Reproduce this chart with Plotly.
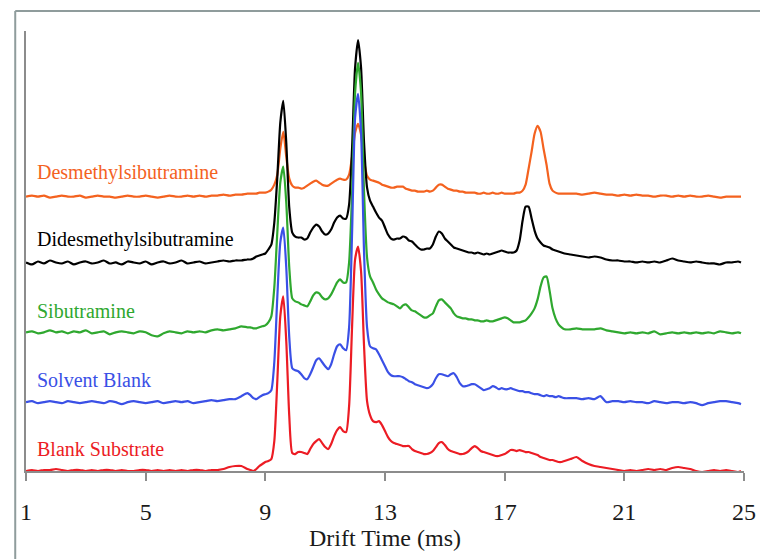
import numpy as np
import plotly.graph_objects as go

# Drift-time sampling grid (ms): coarse at the flat ends, finer through the peak region
t_lo = np.round(np.arange(1.0, 8.41, 0.2), 1)
t_mid = np.round(np.arange(8.5, 19.01, 0.1), 1)
t_hi = np.round(np.append(np.arange(19.2, 24.81, 0.2), 24.9), 1)
drift_time = np.concatenate([t_lo, t_mid, t_hi])

names = ["Desmethylsibutramine", "Didesmethylsibutramine", "Sibutramine",
         "Solvent Blank", "Blank Substrate"]
colors = ["#F4621F", "#000000", "#2FA82F", "#3A50E6", "#EC1C24"]
offsets = [275, 209, 139, 69, 0]   # vertical stacking offset of each spectrum

desmethyl = (
    [0,1,0,1,-1, 0,1,0,0,1, -1,0,1,0,0, -1,0,1,0,0, 1,0,-1,0,1, 0,0,1,0,1, 0,1,1,2,1, 2,2,3]
    + [3,3,3,4,4, 4,5,7,12,22, 48,65,40,18,11, 9,9,8,9,11, 13,15,16,14,12,
       11,11,13,15,17, 18,17,17,22,40, 64,73,62,36,21, 17,16,15,14,12,
       11,10,9,9,10, 10,10,8,7,6, 6,5,5,5,6, 5,6,9,12,12, 10,8,7,6,6,
       5,5,4,4,4, 4,3,3,4,3, 3,4,3,3,4, 3,3,3,3,4, 4,6,12,28,45,
       63,71,65,48,32, 13,6,4,3,3, 3]
    + [3,3,2,3,4, 3,2,2,1,2, 1,2,1,1,0, 1,1,0,1,0, 1,0,0,1,0, -1,0,0,0,0]
)
didesmethyl = (
    [0,-2,1,-1,2, 0,-1,1,-2,0, 1,-1,0,2,-1, 0,-2,1,0,-1, 1,-2,0,1,-1, 0,2,-1,0,1, -1,0,1,2,1, 2,2,3]
    + [3,4,6,7,8, 9,13,18,40,85, 140,162,120,55,30, 26,25,25,23,24, 30,35,38,36,31,
       28,29,33,40,45, 47,44,44,58,115, 195,223,195,120,75, 62,56,50,45,42,
       35,28,24,23,24, 24,26,25,22,21, 18,15,13,13,14, 14,18,26,31,29, 24,21,18,15,14,
       13,12,11,10,10, 9,10,9,8,9, 8,9,10,11,12, 11,10,10,10,12, 22,42,56,56,44,
       32,24,20,17,16, 15,13,12,11,10, 9]
    + [8,7,6,5,6, 5,3,2,2,1, 1,0,1,0,1, 0,2,4,2,1, 0,1,0,-1,-1, -2,0,0,1,0]
)
sibutramine = (
    [0,1,-1,0,2, 0,1,-1,1,0, 2,-1,0,1,-2, 0,1,0,-1,1, 0,-3,-4,-1,1, 0,-1,1,0,1, 0,2,3,2,3, 4,6,5]
    + [5,4,4,5,6, 7,10,16,45,100, 150,166,130,65,34, 31,30,28,27,26, 31,37,40,39,35,
       33,34,38,44,50, 53,50,50,70,140, 240,270,240,140,75, 56,50,43,38,34,
       32,30,29,28,26, 24,27,28,25,22, 21,19,17,15,15, 17,19,26,32,33, 30,27,24,19,16,
       15,14,14,13,13, 12,12,11,11,12, 11,11,12,13,14, 15,14,12,10,10, 10,11,12,15,19,
       24,33,46,55,56, 42,24,14,8,5, 3]
    + [3,4,3,3,3, 4,2,1,0,-1, 0,-1,0,-1,1, -2,-1,0,-1,0, -1,0,-1,0,-1, 1,0,-1,0,-1]
)
solvent_blank = (
    [0,1,-1,0,1, 0,-1,1,0,-1, 0,1,0,-1,1, 0,-2,0,1,0, -1,0,1,-1,0, 1,0,1,-1,0, 1,2,1,2,3, 3,6,9]
    + [7,4,3,5,7, 8,9,12,40,105, 160,175,135,65,34, 32,31,28,24,23, 28,35,42,44,40,
       36,33,38,48,56, 58,54,52,75,170, 285,309,270,150,75, 56,54,53,48,42,
       36,30,27,26,26, 26,25,23,21,20, 18,17,16,15,14, 15,18,24,28,28, 27,26,28,29,25,
       19,16,16,17,18, 18,16,14,12,13, 14,16,15,13,14, 13,13,14,13,12, 11,11,10,10,9,
       8,8,7,6,7, 6,6,5,6,5, 4]
    + [4,4,3,4,3, 6,0,1,1,0, 1,0,0,-1,1, 0,-1,0,0,-1, 0,-1,-3,-1,0, 1,1,0,-1,-2]
)
blank_substrate = (
    [0,1,0,1,1, 2,1,0,1,1, 0,1,0,1,1, 0,1,0,0,1, 1,0,1,0,1, 0,1,0,1,1, 0,1,1,2,4, 5,5,2]
    + [1,0,2,5,7, 9,10,12,30,90, 155,175,130,55,18, 17,19,19,18,17, 22,27,30,32,28,
       24,22,27,35,41, 44,40,39,65,145, 212,225,200,125,70, 56,50,49,50,46,
       40,34,30,28,27, 26,25,25,25,22, 20,19,18,17,17, 18,20,24,28,29, 26,22,20,19,18,
       17,17,18,20,23, 25,23,20,19,18, 17,16,15,15,16, 17,19,21,21,20, 21,20,19,19,18,
       17,16,14,13,12, 11,11,10,9,9, 10]
    + [12,14,10,7,5, 4,3,2,1,0, 1,0,1,2,1, 2,1,3,4,3, 2,0,-1,0,1, 0,1,0,-1,0]
)
series = [desmethyl, didesmethyl, sibutramine, solvent_blank, blank_substrate]

x_ticks = [1, 5, 9, 13, 17, 21, 25]
x_title = "Drift Time (ms)"
label_y = [299, 232, 160, 91, 22]

SERIF = "Liberation Serif, Times New Roman, serif"

fig = go.Figure()
for name, col, off, vals in zip(names, colors, offsets, series):
    assert len(vals) == len(drift_time), (name, len(vals), len(drift_time))
    fig.add_trace(go.Scatter(
        x=drift_time, y=np.array(vals, dtype=float) + off, mode="lines", name=name,
        line=dict(color=col, width=2.2, shape="spline", smoothing=0.6),
        showlegend=False, hoverinfo="skip"))

for name, col, ly in zip(names, colors, label_y):
    fig.add_annotation(x=1.3, y=ly, xref="x", yref="y", text=name, showarrow=False,
                       xanchor="left", yanchor="middle",
                       font=dict(family=SERIF, size=20, color=col))

axis_col = "#8C8C8C"
fig.update_xaxes(range=[1, 25], tickvals=x_ticks, ticktext=[str(v) for v in x_ticks],
                 showgrid=False, zeroline=False, showline=True, linecolor=axis_col,
                 linewidth=1.5, ticks="outside", ticklen=8, tickwidth=1.5,
                 tickcolor=axis_col, ticklabelstandoff=10,
                 tickfont=dict(family=SERIF, size=24, color="#1a1a1a"),
                 title=dict(text=x_title, font=dict(family=SERIF, size=24, color="#1a1a1a"),
                            standoff=6))
fig.update_yaxes(range=[0, 441], showgrid=False, zeroline=False, showline=True,
                 linecolor=axis_col, linewidth=1.5, ticks="", showticklabels=False)

# outer frame (top and left edges; the rest lies outside the picture)
border = "#8F9C9C"
fig.add_shape(type="line", xref="paper", yref="paper", x0=-0.0150, x1=1.05,
              y0=1.0454, y1=1.0454, line=dict(color=border, width=2))
fig.add_shape(type="line", xref="paper", yref="paper", x0=-0.0150, x1=-0.0150,
              y0=1.0454, y1=-0.25, line=dict(color=border, width=2))

# the page body adds an 8px offset, so the figure is 8px smaller than the window
fig.update_layout(width=760, height=551, autosize=False,
                  margin=dict(l=12, r=16, t=23, b=87),
                  paper_bgcolor="white", plot_bgcolor="white")
fig.write_html("out.html")
